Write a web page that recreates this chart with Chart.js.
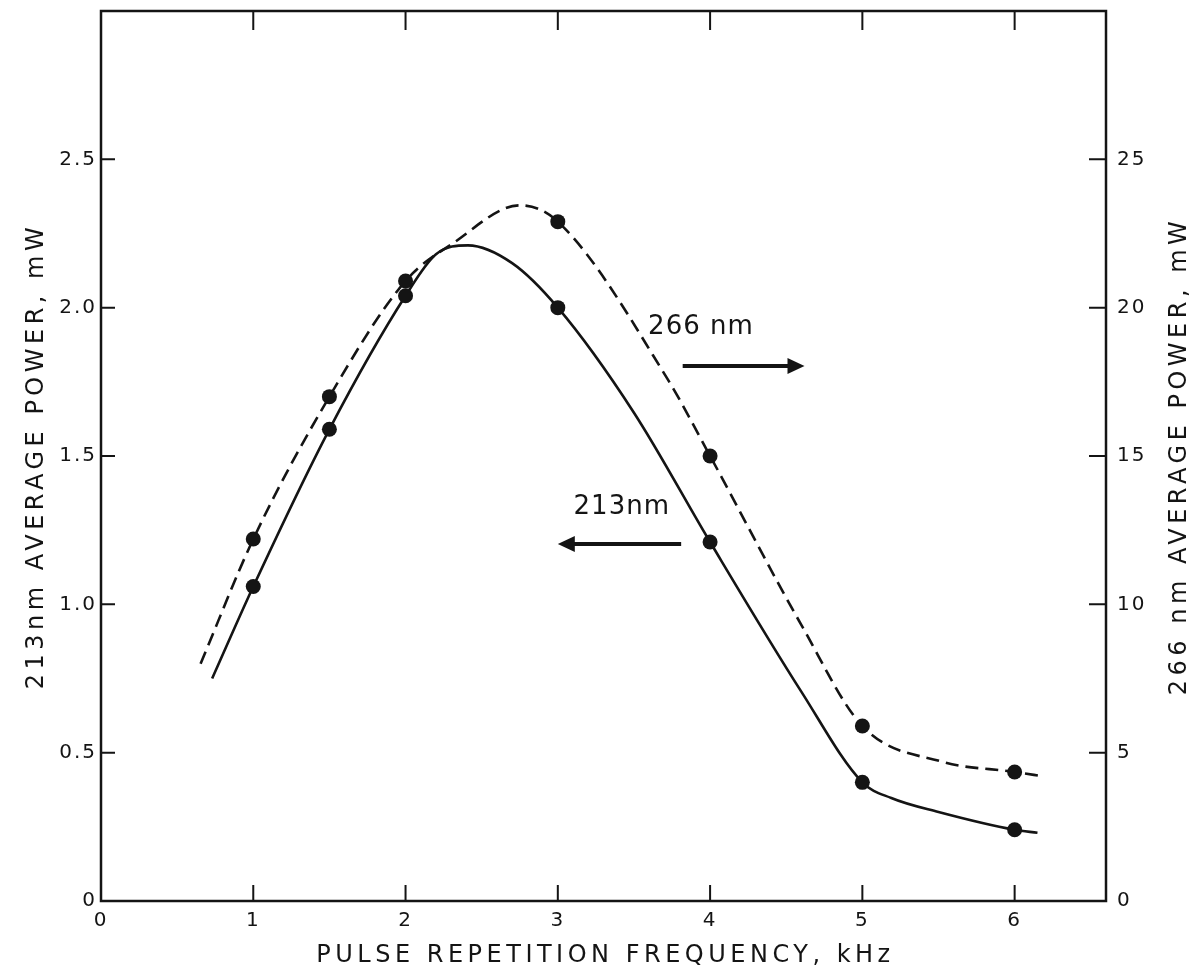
<!DOCTYPE html>
<html><head><meta charset="utf-8">
<script src="https://cdn.jsdelivr.net/npm/chart.js@4.4.1/dist/chart.umd.min.js"></script>
<style>html,body{margin:0;padding:0;background:#fff;overflow:hidden}canvas{display:block}</style>
</head><body>
<canvas id="c" width="1203" height="979"></canvas>
<script>
// measured points
const freqKHz   = [1, 1.5, 2, 3, 4, 5, 6];
const power213  = [1.06, 1.59, 2.04, 2.0, 1.21, 0.40, 0.24];   // mW, left axis
const power266  = [12.2, 17.0, 20.9, 22.9, 15.0, 5.9, 4.35];   // mW, right axis
// hand-drawn fit curves
const curve213X = [0.73, 1, 1.5, 2, 2.2, 2.41, 2.7, 3, 3.5, 4, 4.6, 5, 5.19, 5.5, 6, 6.15];
const curve213Y = [0.75, 1.06, 1.59, 2.04, 2.18, 2.21, 2.15, 2.0, 1.646, 1.21, 0.705, 0.40, 0.347, 0.30, 0.24, 0.23];
const curve266X = [0.654, 1, 1.5, 2, 2.32, 2.75, 3, 3.72, 4, 4.6, 5, 5.52, 6, 6.19];
const curve266Y = [8.0, 12.2, 17.0, 20.9, 22.2, 23.45, 22.9, 17.6, 15.0, 9.3, 5.9, 4.7, 4.35, 4.2];
// tick labels
const xTickValues = [0, 1, 2, 3, 4, 5, 6];
const xTickLabels = ['0', '1', '2', '3', '4', '5', '6'];
const leftTickValues = [0, 0.5, 1.0, 1.5, 2.0, 2.5];
const leftTickLabels = ['0', '0.5', '1.0', '1.5', '2.0', '2.5'];
const rightTickValues = [0, 5, 10, 15, 20, 25];
const rightTickLabels = ['0', '5', '10', '15', '20', '25'];
// axis titles
const xTitle = 'PULSE REPETITION FREQUENCY, kHz';
const leftTitle = '213nm AVERAGE POWER, mW';
const rightTitle = '266 nm AVERAGE POWER, mW';
// annotation labels (data coordinates, left-axis units)
const annoLabels = [
  {text: '266 nm', x: 3.94, y: 1.935, arrowFrom: 3.82, arrowTo: 4.62, arrowY: 1.803},
  {text: '213nm',  x: 3.42, y: 1.328, arrowFrom: 3.81, arrowTo: 3.0,  arrowY: 1.203}
];

const FONT = 'DejaVu Sans';
const INK = '#141414';

function labelFor(values, labels, v) {
  for (let i = 0; i < values.length; i++) if (Math.abs(values[i] - v) < 1e-6) return labels[i];
  return '';
}
const toXY = (xs, ys) => xs.map((x, i) => ({x: x, y: ys[i]}));

const spacing = {
  id: 'spacing',
  beforeLayout(chart) { chart.ctx.letterSpacing = '2px'; },
  beforeDraw(chart) { chart.ctx.letterSpacing = '2px'; }
};

function noPad(s) { s.paddingTop = 0; s.paddingBottom = 0; s.paddingLeft = 0; s.paddingRight = 0; }

const frameAndTicks = {
  id: 'frameAndTicks',
  afterDraw(chart) {
    const {ctx, chartArea: a, scales} = chart;
    ctx.save();
    ctx.strokeStyle = INK;
    ctx.lineWidth = 2.5;
    ctx.strokeRect(a.left, a.top, a.right - a.left, a.bottom - a.top);
    ctx.lineWidth = 2;
    ctx.beginPath();
    xTickValues.forEach(v => {
      if (v === 0) return;
      const px = scales.x.getPixelForValue(v);
      ctx.moveTo(px, a.bottom); ctx.lineTo(px, a.bottom - 16);
      ctx.moveTo(px, a.top); ctx.lineTo(px, a.top + 19);
    });
    leftTickValues.forEach(v => {
      if (v === 0) return;
      const py = scales.y.getPixelForValue(v);
      ctx.moveTo(a.left, py); ctx.lineTo(a.left + 14, py);
    });
    rightTickValues.forEach(v => {
      if (v === 0) return;
      const py = scales.y2.getPixelForValue(v);
      ctx.moveTo(a.right, py); ctx.lineTo(a.right - 17, py);
    });
    ctx.stroke();

    // axis titles
    ctx.fillStyle = INK;
    ctx.font = '24px "' + FONT + '"';
    ctx.letterSpacing = '4.5px';
    ctx.textAlign = 'center';
    ctx.textBaseline = 'middle';
    const midY = (a.top + a.bottom) / 2;
    ctx.fillText(xTitle, (a.left + a.right) / 2 + 2, a.bottom + 55);
    ctx.save();
    ctx.translate(a.left - 64, midY);
    ctx.rotate(-Math.PI / 2);
    ctx.fillText(leftTitle, 0, 0);
    ctx.restore();
    ctx.save();
    ctx.translate(a.right + 74, midY);
    ctx.rotate(-Math.PI / 2);
    ctx.fillText(rightTitle, 0, 0);
    ctx.restore();
    ctx.restore();

    // annotations with arrows
    ctx.save();
    ctx.fillStyle = INK; ctx.strokeStyle = INK;
    ctx.font = '26px "' + FONT + '"';
    ctx.letterSpacing = '1px';
    ctx.textAlign = 'center'; ctx.textBaseline = 'middle';
    annoLabels.forEach(an => {
      const tx = scales.x.getPixelForValue(an.x), ty = scales.y.getPixelForValue(an.y);
      ctx.fillText(an.text, tx, ty);
      const x1 = scales.x.getPixelForValue(an.arrowFrom), x2 = scales.x.getPixelForValue(an.arrowTo);
      const ay = scales.y.getPixelForValue(an.arrowY);
      const dir = Math.sign(x2 - x1);
      ctx.lineWidth = 4;
      ctx.beginPath(); ctx.moveTo(x1, ay); ctx.lineTo(x2 - dir * 12, ay); ctx.stroke();
      ctx.beginPath(); ctx.moveTo(x2, ay); ctx.lineTo(x2 - dir * 17, ay - 8); ctx.lineTo(x2 - dir * 17, ay + 8); ctx.closePath(); ctx.fill();
    });
    ctx.restore();
  }
};

const tickFont = {family: FONT, size: 20};

new Chart(document.getElementById('c'), {
  type: 'line',
  data: {
    datasets: [
      {label: '213 nm points', data: toXY(freqKHz, power213), yAxisID: 'y', showLine: false,
       pointRadius: 7.5, pointBackgroundColor: INK, pointBorderColor: INK, pointBorderWidth: 0},
      {label: '266 nm points', data: toXY(freqKHz, power266), yAxisID: 'y2', showLine: false,
       pointRadius: 7.5, pointBackgroundColor: INK, pointBorderColor: INK, pointBorderWidth: 0},
      {label: '213 nm curve', data: toXY(curve213X, curve213Y), yAxisID: 'y', borderColor: INK,
       borderWidth: 2.6, pointRadius: 0, cubicInterpolationMode: 'monotone', fill: false},
      {label: '266 nm curve', data: toXY(curve266X, curve266Y), yAxisID: 'y2', borderColor: INK,
       borderWidth: 2.6, borderDash: [13, 7], pointRadius: 0, cubicInterpolationMode: 'monotone', fill: false}
    ]
  },
  options: {
    responsive: false, animation: false, devicePixelRatio: 1,
    layout: {padding: {top: 11, left: 0, right: 0, bottom: 0}},
    plugins: {legend: {display: false}, tooltip: {enabled: false}},
    scales: {
      x: {
        type: 'linear', position: 'bottom', min: 0, max: 6.6,
        afterFit(s) { s.height = 78; noPad(s); },
        afterBuildTicks(s) { s.ticks = xTickValues.map(v => ({value: v})); },
        ticks: {callback: v => labelFor(xTickValues, xTickLabels, v), font: tickFont, color: INK, padding: 8, maxRotation: 0, autoSkip: false},
        grid: {drawOnChartArea: false, drawTicks: false},
        border: {display: false}
      },
      y: {
        type: 'linear', position: 'left', min: 0, max: 3,
        afterFit(s) { s.width = 101; noPad(s); },
        afterBuildTicks(s) { s.ticks = leftTickValues.map(v => ({value: v})); },
        ticks: {callback: v => labelFor(leftTickValues, leftTickLabels, v), font: tickFont, color: INK, padding: 4, autoSkip: false},
        grid: {drawOnChartArea: false, drawTicks: false},
        border: {display: false}
      },
      y2: {
        type: 'linear', position: 'right', min: 0, max: 30,
        afterFit(s) { s.width = 97; noPad(s); },
        afterBuildTicks(s) { s.ticks = rightTickValues.map(v => ({value: v})); },
        ticks: {callback: v => labelFor(rightTickValues, rightTickLabels, v), font: tickFont, color: INK, padding: 11, autoSkip: false},
        grid: {drawOnChartArea: false, drawTicks: false},
        border: {display: false}
      }
    }
  },
  plugins: [spacing, frameAndTicks]
});
</script>
</body></html>
